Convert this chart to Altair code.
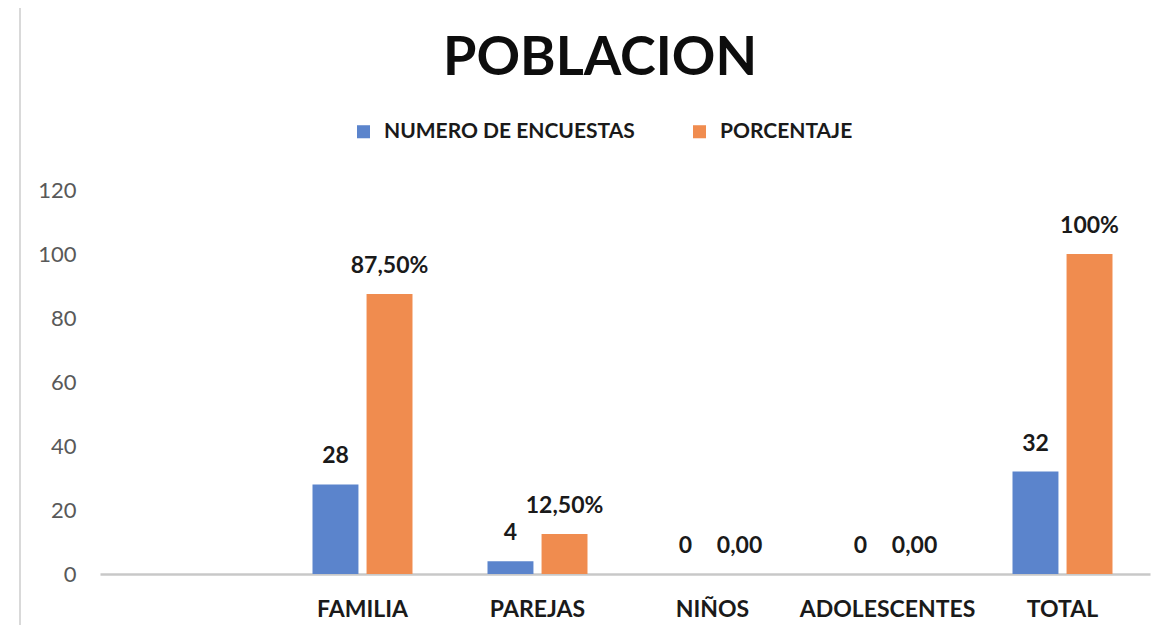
import altair as alt
import pandas as pd

categories = ["FAMILIA", "PAREJAS", "NIÑOS", "ADOLESCENTES", "TOTAL"]
axis_categories = [" "] + categories
series_names = ["NUMERO DE ENCUESTAS", "PORCENTAJE"]
encuestas = [28, 4, 0, 0, 32]
porcentaje = [87.5, 12.5, 0, 0, 100]
encuestas_labels = ["28", "4", "0", "0", "32"]
porcentaje_labels = ["87,50%", "12,50%", "0,00", "0,00", "100%"]
y_ticks = [0, 20, 40, 60, 80, 100, 120]
colors = ["#5B84CC", "#F08C4F"]

rows = []
for c, v, l in zip(categories, encuestas, encuestas_labels):
    rows.append({"cat": c, "serie": series_names[0], "valor": v, "label": l})
for c, v, l in zip(categories, porcentaje, porcentaje_labels):
    rows.append({"cat": c, "serie": series_names[1], "valor": v, "label": l})
df = pd.DataFrame(rows)

FONT = "Lato"
x_scale = alt.Scale(domain=axis_categories, paddingInner=0.4286, paddingOuter=0.2143)
y_scale = alt.Scale(domain=[0, 120], nice=False)

x_enc = alt.X(
    "cat:N",
    scale=x_scale,
    axis=alt.Axis(
        title=None, labelAngle=0, ticks=False, domain=True, domainColor="#C8C8C8",
        domainWidth=2.5, labelFont=FONT, labelFontSize=23, labelFontWeight="bold",
        labelColor="#1a1a1a", labelPadding=24,
    ),
)
xoff_enc = alt.XOffset("serie:N", scale=alt.Scale(domain=series_names, paddingInner=0.15, paddingOuter=0))
y_enc = alt.Y(
    "valor:Q",
    scale=y_scale,
    axis=alt.Axis(
        title=None, values=y_ticks, grid=False, domain=False, ticks=False,
        labelFont=FONT, labelFontSize=22, labelColor="#595959", labelPadding=24,
    ),
)

bars = alt.Chart(df).mark_bar(strokeWidth=0).encode(
    x=x_enc,
    xOffset=xoff_enc,
    y=y_enc,
    color=alt.Color(
        "serie:N",
        scale=alt.Scale(domain=series_names, range=colors),
        legend=alt.Legend(
            title=None, orient="none", legendX=253, legendY=-69, direction="horizontal",
            symbolType="square", symbolSize=170, symbolStrokeWidth=0,
            labelFont=FONT, labelFontSize=21, labelFontWeight="bold", labelColor="#1a1a1a",
            columnPadding=54, labelOffset=10, labelLimit=0,
        ),
    ),
)

texts = alt.Chart(df).mark_text(
    dy=-28, font=FONT, fontSize=23, fontWeight="bold", color="#1a1a1a", baseline="middle"
).encode(
    x=alt.X("cat:N", scale=x_scale),
    xOffset=xoff_enc,
    y=alt.Y("valor:Q", scale=y_scale),
    text="label:N",
)

ruler = alt.Chart(pd.DataFrame({"a": [0]})).mark_rule(color="#D9D9D9", strokeWidth=2).encode(
    x=alt.value(-80), y=alt.value(-185), y2=alt.value(443)
)

chart = alt.layer(ruler, bars, texts).properties(
    width=1050,
    height=384,
    background="white",
    title=alt.TitleParams(
        "POBLACION", font=FONT, fontSize=54, fontWeight="bold", color="#0d0d0d",
        anchor="middle", offset=-82, dx=-25,
    ),
    autosize=alt.AutoSizeParams(type="none"),
    padding={"left": 92, "top": 182, "right": 14, "bottom": 51},
).configure_view(stroke=None)

chart.save("out.html", embed_options={"renderer": "svg", "actions": False})
